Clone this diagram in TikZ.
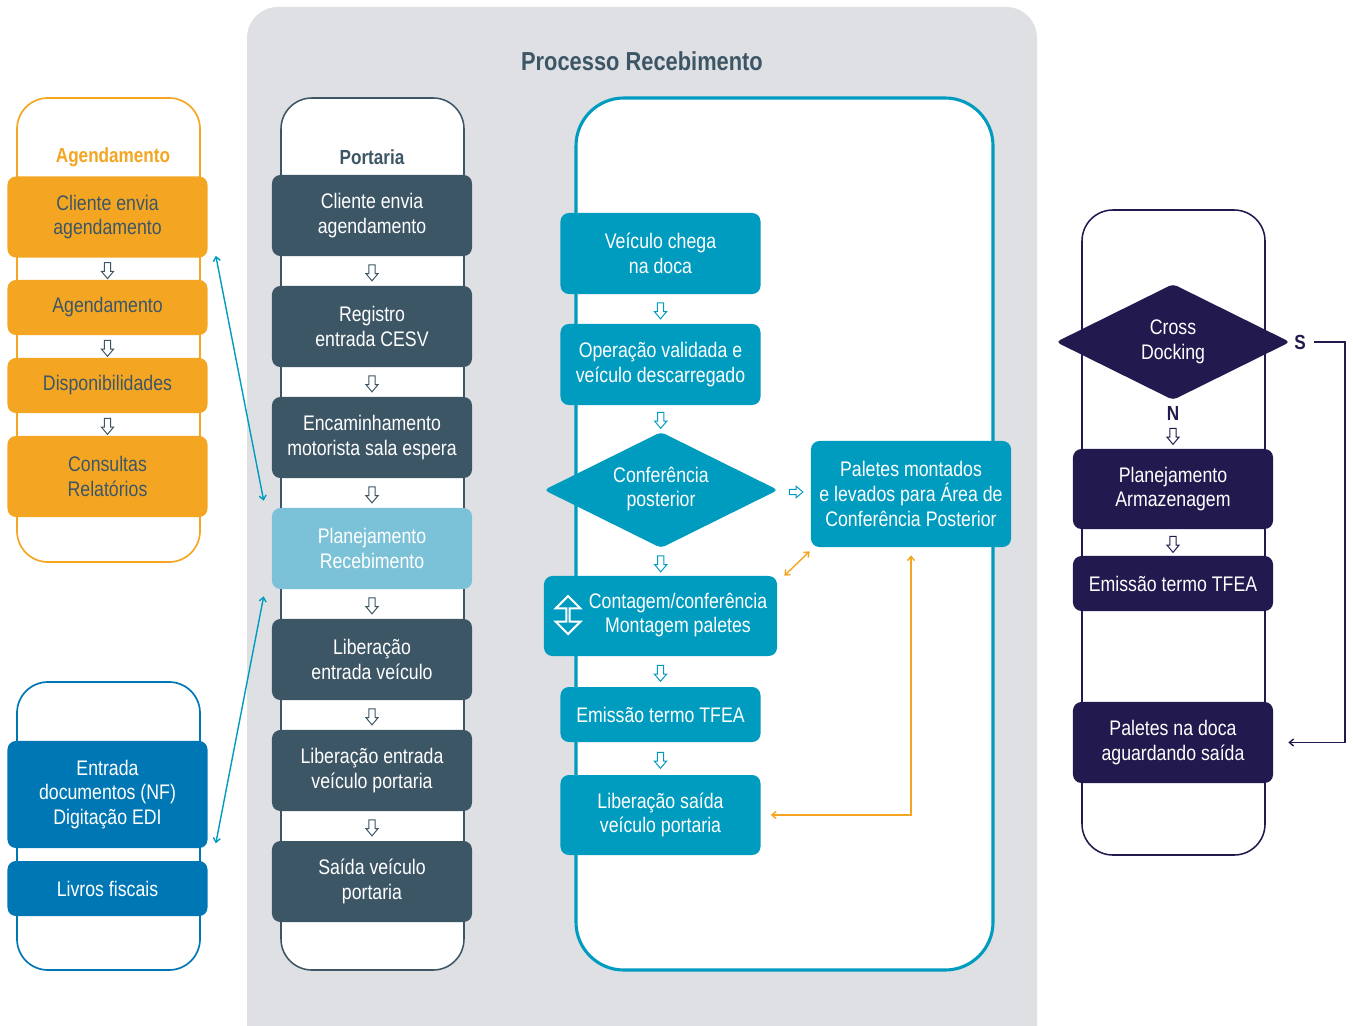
\documentclass[tikz,border=0pt]{standalone}
\usepackage{fontspec}
\setmainfont{Liberation Sans}[FakeStretch=0.84]
\usetikzlibrary{arrows.meta,positioning,shapes.geometric,shapes.arrows,calc}
\definecolor{agorange}{HTML}{F4A623}
\definecolor{slatebox}{HTML}{3D5666}
\definecolor{planlight}{HTML}{7BC2D9}
\definecolor{tealbox}{HTML}{009CC0}
\definecolor{nfblue}{HTML}{0077B5}
\definecolor{navybox}{HTML}{221A4F}
\definecolor{panelgray}{HTML}{DFE0E4}

\begin{document}
\begin{tikzpicture}[
  x=0.025cm, y=-0.025cm,
  every node/.style={font=\fontsize{15}{17.5}\selectfont, align=center, inner sep=0pt},
  box/.style={rectangle, rounded corners=6pt, minimum width=5cm, minimum height=2.025cm},
  agbox/.style={box, fill=agorange, text=slatebox},
  nfbox/.style={box, fill=nfblue, text=white},
  ptbox/.style={box, fill=slatebox, text=white},
  tlbox/.style={box, fill=tealbox, text=white},
  nvbox/.style={box, fill=navybox, text=white},
  choice/.style={diamond, rounded corners=3pt, minimum width=5.85cm, minimum height=2.9cm},
  heading/.style={font=\fontsize{14.5}{16}\selectfont\bfseries},
  hollow/.style={single arrow, draw=#1, fill=white, line width=0.7pt, inner sep=0.065cm, minimum height=0.4cm, single arrow head extend=0.075cm, single arrow tip angle=80},
  downarr/.style={hollow=#1, shape border rotate=270},
  rightarr/.style={hollow=#1, shape border rotate=0, inner sep=0.055cm, minimum height=0.34cm},
  link/.style={line width=1pt, {Straight Barb[length=3pt,width=5pt]}-{Straight Barb[length=3pt,width=5pt]}},
]
\useasboundingbox (0,0) rectangle (1353,1025);

% Background panel and lanes
\fill[panelgray, rounded corners=22pt] (247,7) rectangle (1037,1080);
\node[font=\fontsize{18.5}{20}\selectfont\bfseries, text=slatebox] (title) at (642,61) {Processo Recebimento};

\draw[agorange, line width=1.2pt, fill=white, rounded corners=22pt] (17,98) rectangle (200,562);
\draw[nfblue, line width=1.2pt, fill=white, rounded corners=22pt] (17,682) rectangle (200,970);
\draw[slatebox, line width=1.1pt, fill=white, rounded corners=22pt] (281,98) rectangle (464,970);
\draw[tealbox, line width=2.2pt, fill=white, rounded corners=34pt] (576,98) rectangle (993,970);
\draw[navybox, line width=1.1pt, fill=white, rounded corners=22pt] (1082,210) rectangle (1265,855);

% Agendamento
\node[heading, text=agorange] (aghead) at (113,157) {Agendamento};
\node[agbox] (ag1) at (107.5,217) {Cliente envia\\agendamento};
\node[agbox, minimum height=1.375cm] (ag2) at (107.5,307.5) {Agendamento};
\node[agbox, minimum height=1.375cm] (ag3) at (107.5,385.5) {Disponibilidades};
\node[agbox] (ag4) at (107.5,476.5) {Consultas\\Relatórios};
\foreach \a/\b in {ag1/ag2, ag2/ag3, ag3/ag4}
  \node[downarr=slatebox] (\a-\b) at ($(\a.south)!0.5!(\b.north)$) {};

% Documentos fiscais
\node[nfbox, minimum height=2.675cm] (nf1) at (107.5,794.5) {Entrada\\documentos (NF)\\Digitação EDI};
\node[nfbox, minimum height=1.375cm] (nf2) at (107.5,888.5) {Livros fiscais};

% Portaria
\node[heading, text=slatebox] (pthead) at (372,157) {Portaria};
\node[ptbox] (pt1) at (372,215.5) {Cliente envia\\agendamento};
\node[ptbox] (pt2) at (372,326.5) {Registro\\entrada CESV};
\node[ptbox] (pt3) at (372,437.5) {Encaminhamento\\motorista sala espera};
\node[box, fill=planlight, text=white] (plan) at (372,548.5) {Planejamento\\Recebimento};
\node[ptbox] (pt5) at (372,659.5) {Liberação\\entrada veículo};
\node[ptbox] (pt6) at (372,770.5) {Liberação entrada\\veículo portaria};
\node[ptbox] (pt7) at (372,881.5) {Saída veículo\\portaria};
\foreach \a/\b in {pt1/pt2, pt2/pt3, pt3/plan, plan/pt5, pt5/pt6, pt6/pt7}
  \node[downarr=slatebox] (\a-\b) at ($(\a.south)!0.5!(\b.north)$) {};

% Links to the side lanes
\draw[link, tealbox] ($(ag1.south east)+(8,-2)$) -- ($(plan.north west)+(-8,-7)$);
\draw[link, tealbox] ($(plan.south west)+(-8,7)$) -- ($(nf1.south east)+(8,-5)$);

% Doca
\node[tlbox] (ve1) at (660.5,253.5) {Veículo chega\\na doca};
\node[tlbox] (ve2) at (660.5,364.5) {Operação validada e\\veículo descarregado};
\node[choice, fill=tealbox] (cp) at (661,490) {};
\node[text=white] (cptxt) at (661,489) {Conferência\\posterior};
\node[tlbox, minimum width=5.825cm, minimum height=2cm] (ve4) at (660.5,616) {};
\node[text=white] (ve4txt) at (678,615) {Contagem/conferência\\Montagem paletes};
\node[double arrow, draw=white, line width=1.5pt, shape border rotate=90, minimum height=0.95cm, minimum width=0.62cm, double arrow head extend=0.17cm] (ve4icon) at (568,615) {};
\node[tlbox, minimum height=1.375cm] (ve5) at (660.5,714.5) {Emissão termo TFEA};
\node[tlbox, minimum height=2cm] (ve6) at (660.5,815) {Liberação saída\\veículo portaria};
\node[tlbox, minimum height=2.65cm] (pal) at (911,494) {Paletes montados\\e levados para Área de\\Conferência Posterior};
\foreach \a/\b in {ve1/ve2, ve2/cp, cp/ve4, ve4/ve5, ve5/ve6}
  \node[downarr=tealbox] (\a-\b) at ($(\a.south)!0.5!(\b.north)$) {};
\node[rightarr=tealbox] (cp-pal) at ($(cp.east)!0.5!(pal.west)$) {};

\draw[link, agorange] ($(ve4.north east)+(7,0)$) -- ($(pal.south west)+(-1,4)$);
\draw[link, agorange] ($(ve6.east)+(10,0)$) -| ($(pal.south)+(0,8)$);

% Cross docking
\node[choice, fill=navybox] (cd) at (1173,342) {};
\node[text=white] (cdtxt) at (1173,342) {Cross\\Docking};
\node[heading, text=navybox] (nlab) at (1173,413) {N};
\node[heading, text=navybox] (slab) at (1300,342) {S};
\node[nvbox, minimum height=2cm] (na1) at (1173,489) {Planejamento\\Armazenagem};
\node[nvbox, minimum height=1.375cm] (na2) at (1173,583.5) {Emissão termo TFEA};
\node[nvbox] (na3) at (1173,742.5) {Paletes na doca\\aguardando saída};
\node[downarr=navybox] (cd-na1) at ($(nlab.south)!0.5!(na1.north)$) {};
\node[downarr=navybox] (na1-na2) at ($(na1.south)!0.5!(na2.north)$) {};
\draw[navybox, line width=1pt, -{Straight Barb[length=3pt,width=5pt]}] ($(slab.east)+(8,0)$) -- ++(31,0) |- ($(na3.east)+(15,0)$);

\end{tikzpicture}
\end{document}
